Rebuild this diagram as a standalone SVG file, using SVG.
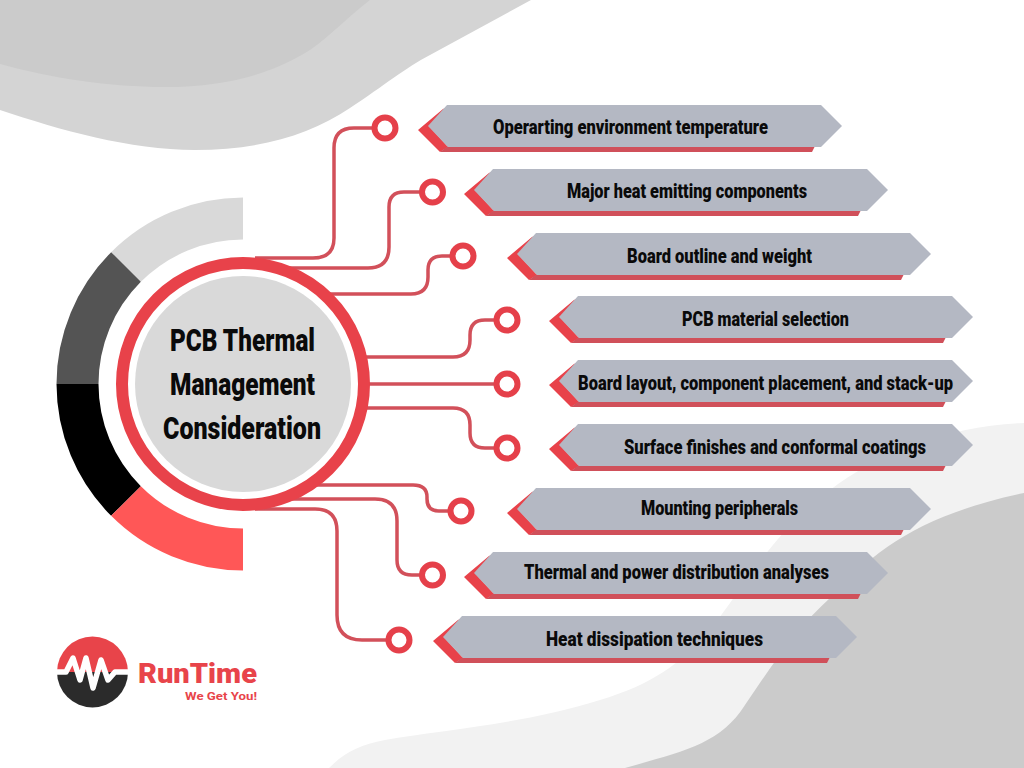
<svg xmlns="http://www.w3.org/2000/svg" width="1024" height="768" viewBox="0 0 1024 768">
<style>
.lbl{font-family:"Roboto","Liberation Sans",sans-serif;font-weight:900;font-size:19.5px;fill:#0a0a0a}
.title{font-family:"Roboto","Liberation Sans",sans-serif;font-weight:900;font-size:31px;fill:#0a0a0a}
.conn{fill:none;stroke:#d2505a;stroke-width:3.5}
.dot{fill:#fff;stroke:#e5404a;stroke-width:6}
.gray{fill:#b4b8c3}
.red{fill:#e8424a}
.strip{fill:#d0505a}
</style>
<defs>
<g id="banner">
<path class="red" d="M-10,4L15,-17L22,-20L1,0L20,21L12,26Z"/>
<path class="strip" d="M12,26L20,20L387,20L384,26Z"/>
<path class="gray" d="M0,0L19,-21L393,-21L414,0L393,21L20,21Z"/>
</g>
</defs>
<rect width="1024" height="768" fill="#fff"/>
<g id="background">
<path fill="#d4d4d4" d="M0,0L531,0L430,55C405,68 385,85 350,108C310,135 260,150 195,150C130,150 60,130 0,110Z"/>
<path fill="#cbcbcb" d="M0,0L370,0C350,15 330,36 310,50C275,72 230,87 165,87C110,87 50,78 0,64Z"/>
<path fill="#f2f2f2" d="M329,768C345,752 360,745 385,740C440,730 520,725 600,700C650,685 680,665 710,630C745,585 775,530 830,490C875,455 950,425 1024,423L1024,768Z"/>
<path fill="#cbcbcb" d="M625,768C680,752 720,745 745,705C775,660 800,625 830,598C875,550 920,515 1024,493L1024,768Z"/>
</g>
<g id="outer-ring" fill="none" stroke-width="42">
<path stroke="#d9d9d9" d="M243,218.500A165.500,165.500 0 0 0 126,267"/>
<path stroke="#545454" d="M126,267A165.500,165.500 0 0 0 77.500,384"/>
<path stroke="#000" d="M77.500,384A165.500,165.500 0 0 0 126,501"/>
<path stroke="#ff5757" d="M126,501A165.500,165.500 0 0 0 243,549.500"/>
</g>
<g id="connectors">
<path class="conn" d="M255,258H313Q334,258 334,238V148Q334,128 354,128H372"/>
<path class="conn" d="M285,268H368Q389,268 389,247V207Q389,192 404,192H420"/>
<path class="conn" d="M325,294H411Q428,294 428,277V270Q428,256 442,256H450"/>
<path class="conn" d="M360,357H453Q470,357 470,340V335Q470,320 485,320H495"/>
<path class="conn" d="M360,384H495"/>
<path class="conn" d="M360,408H453Q470,408 470,425V433Q470,448 485,448H495"/>
<path class="conn" d="M310,485H413Q427,485 427,497V499Q427,511 439,511H449"/>
<path class="conn" d="M285,499H375Q397,499 397,521V560Q397,575 412,575H420"/>
<path class="conn" d="M255,509H315Q337,509 337,531V615Q337,640 362,640H387"/>
</g>
<g id="center">
<circle cx="243" cy="384" r="121" fill="#fff" stroke="#e8424a" stroke-width="12"/>
<circle cx="243" cy="384" r="108" fill="#d9d9d9"/>
<text class="title" x="170" y="351" textLength="145" lengthAdjust="spacingAndGlyphs">PCB Thermal</text>
<text class="title" x="170" y="395" textLength="145" lengthAdjust="spacingAndGlyphs">Management</text>
<text class="title" x="163" y="439" textLength="158" lengthAdjust="spacingAndGlyphs">Consideration</text>
</g>
<g id="node-1"><circle class="dot" cx="385" cy="128" r="10.500"/><use href="#banner" x="428" y="126"/><text class="lbl" x="493" y="134" textLength="275" lengthAdjust="spacingAndGlyphs">Operarting environment temperature</text></g>
<g id="node-2"><circle class="dot" cx="432.500" cy="192" r="10.500"/><use href="#banner" x="474" y="190"/><text class="lbl" x="567" y="198" textLength="240" lengthAdjust="spacingAndGlyphs">Major heat emitting components</text></g>
<g id="node-3"><circle class="dot" cx="463" cy="256" r="10.500"/><use href="#banner" x="517" y="254"/><text class="lbl" x="627" y="263" textLength="185" lengthAdjust="spacingAndGlyphs">Board outline and weight</text></g>
<g id="node-4"><circle class="dot" cx="507" cy="320" r="10.500"/><use href="#banner" x="559" y="317"/><text class="lbl" x="682" y="326" textLength="167" lengthAdjust="spacingAndGlyphs">PCB material selection</text></g>
<g id="node-5"><circle class="dot" cx="507" cy="384" r="10.500"/><use href="#banner" x="559" y="381"/><text class="lbl" x="578" y="390" textLength="375" lengthAdjust="spacingAndGlyphs">Board layout, component placement, and stack-up</text></g>
<g id="node-6"><circle class="dot" cx="507" cy="448" r="10.500"/><use href="#banner" x="559" y="445"/><text class="lbl" x="624" y="454" textLength="302" lengthAdjust="spacingAndGlyphs">Surface finishes and conformal coatings</text></g>
<g id="node-7"><circle class="dot" cx="461" cy="511" r="10.500"/><use href="#banner" x="517" y="509"/><text class="lbl" x="641" y="515" textLength="157" lengthAdjust="spacingAndGlyphs">Mounting peripherals</text></g>
<g id="node-8"><circle class="dot" cx="432.500" cy="575" r="10.500"/><use href="#banner" x="474" y="573"/><text class="lbl" x="524" y="579" textLength="305" lengthAdjust="spacingAndGlyphs">Thermal and power distribution analyses</text></g>
<g id="node-9"><circle class="dot" cx="399" cy="640" r="10.500"/><use href="#banner" x="443" y="637"/><text class="lbl" x="546" y="646" textLength="217" lengthAdjust="spacingAndGlyphs">Heat dissipation techniques</text></g>
<g id="logo">
<path fill="#e8444a" d="M57,672A35.500,35.500 0 0 1 128,672Z"/>
<path fill="#2b2b2b" d="M57,672A35.500,35.500 0 0 0 128,672Z"/>
<polyline fill="none" stroke="#fff" stroke-width="5.500" stroke-linejoin="round" points="57,672 66,672 73,658 80,680 86,658 93,688 101,660 108,680 115,672 128,672"/>
<text x="138" y="683" textLength="119" lengthAdjust="spacingAndGlyphs" font-family="Roboto, 'Liberation Sans', sans-serif" font-weight="900" font-size="27" fill="#e8444a">RunTime</text>
<text x="185" y="700" textLength="72" lengthAdjust="spacingAndGlyphs" font-family="Roboto, 'Liberation Sans', sans-serif" font-weight="700" font-size="11.500" fill="#e8444a">We Get You!</text>
</g>
</svg>
